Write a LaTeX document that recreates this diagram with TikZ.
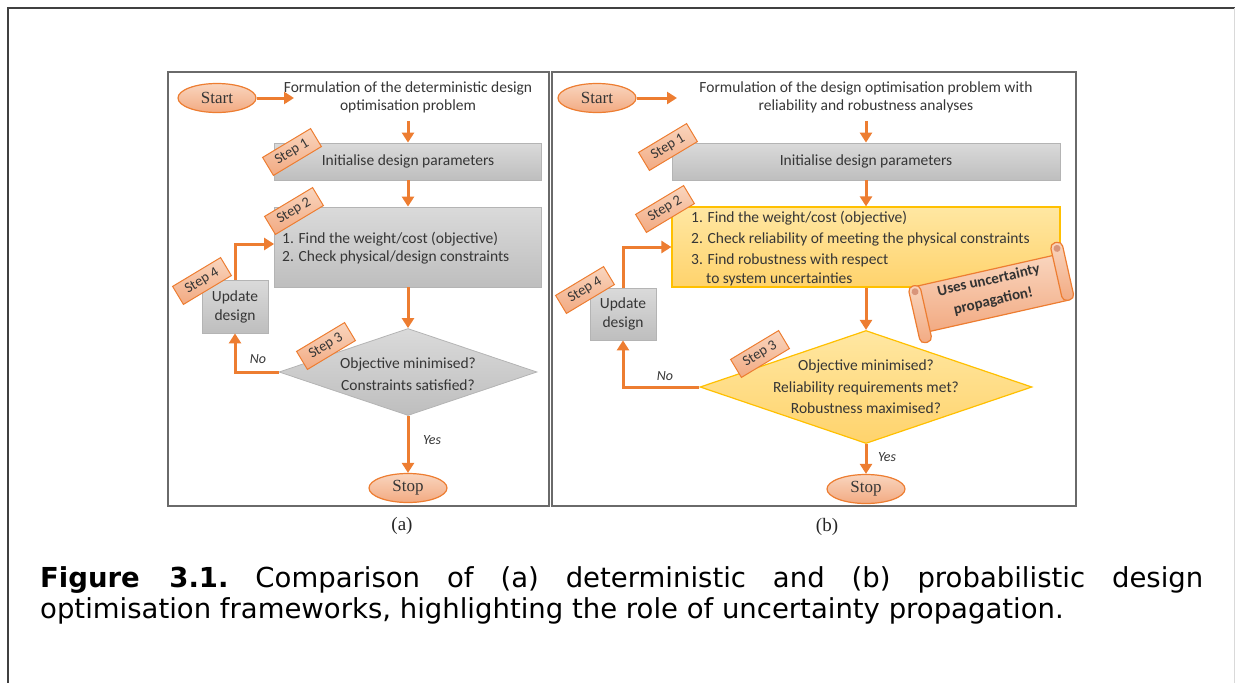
\documentclass[tikz,border=0pt]{standalone}
\usepackage{fontspec}
\setmainfont{Carlito}
\newfontfamily\serifface{Liberation Serif}
\newfontfamily\capface{DejaVu Sans}
\usetikzlibrary{arrows.meta,shapes.geometric,calc}

\definecolor{flow}{HTML}{ED7D31}
\definecolor{salmonA}{HTML}{F9D5BE}
\definecolor{salmonB}{HTML}{F2AA82}
\definecolor{greyA}{HTML}{DADADA}
\definecolor{greyB}{HTML}{BEBEBE}
\definecolor{greyEdge}{HTML}{B4B4B4}
\definecolor{yelA}{HTML}{FFE7A2}
\definecolor{yelB}{HTML}{FFD36C}
\definecolor{yelEdge}{HTML}{FFC000}
\definecolor{ink}{HTML}{363636}
\definecolor{panelEdge}{HTML}{6A6A6A}
\definecolor{curl}{HTML}{D9957A}

\newcommand\dfont{\fontsize{15.5}{18}\selectfont}

\tikzset{
  plain/.style={font=\dfont, text=ink, inner sep=2pt},
  lbl/.style={font=\fontsize{14}{16}\selectfont\itshape, text=ink, inner sep=1pt},
  terminal/.style={ellipse, draw=flow, line width=1.2pt, top color=salmonA, bottom color=salmonB,
    minimum width=78pt, minimum height=29pt, inner sep=0pt,
    font=\serifface\fontsize{17}{19}\selectfont, text=ink},
  tagbox/.style={rectangle, draw=flow, line width=1pt, top color=salmonA, bottom color=salmonB,
    minimum width=56pt, minimum height=21pt, inner sep=0pt, rotate=31,
    font=\fontsize{14.5}{16}\selectfont, text=ink},
  greybox/.style={rectangle, draw=greyEdge, line width=0.8pt, top color=greyA, bottom color=greyB,
    inner sep=0pt, font=\dfont, text=ink},
  yelbox/.style={rectangle, draw=yelEdge, line width=1.2pt, top color=yelA, bottom color=yelB,
    inner sep=0pt},
  greydec/.style={diamond, draw=greyEdge, line width=0.8pt, top color=greyA, bottom color=greyB,
    inner sep=0pt},
  yeldec/.style={diamond, draw=yelEdge, line width=1.2pt, top color=yelA, bottom color=yelB,
    inner sep=0pt},
  panel/.style={draw=panelEdge, line width=1.6pt},
  flowline/.style={draw=flow, line width=3pt},
  flowarrow/.style={flowline, -{Triangle[length=10pt,width=12pt]}},
  scrollpart/.style={draw=flow, line width=1.2pt, top color=salmonA, bottom color=salmonB},
}

\begin{document}
\begin{tikzpicture}[x=1pt,y=-1pt]
\useasboundingbox (0,0) rectangle (1235,683);

% page frame
\draw[black!75, line width=1.5pt] (8,683) -- (8,8) -- (1235,8);
\draw[black!15, line width=1pt] (1234,8) -- (1234,683);

% panel frames
\draw[panel] (168,72) rectangle (549,506);
\draw[panel] (552,72) rectangle (1076,506);

% ---------------- (a) deterministic ----------------
\node[terminal] (startA) at (217,98) {Start};
\coordinate (startAtip) at (294,98);
\node[plain, align=center] (formA) at (408,97)
  {Formulation of the deterministic design\\optimisation problem};
\node[greybox, minimum width=267pt, minimum height=37pt] (initA) at (408,161.5)
  {Initialise design parameters};
\node[greybox, minimum width=267pt, minimum height=80pt] (evalA) at (408,247) {};
\node[plain, anchor=west] (evalA1) at (280,239) {1. Find the weight/cost (objective)};
\node[plain, anchor=west] (evalA2) at (280,257) {2. Check physical/design constraints};
\node[greydec, minimum width=258pt, minimum height=87pt] (decA) at (408,372) {};
\node[plain, align=center, font=\fontsize{15.5}{22}\selectfont] (decAtxt) at (408,374)
  {Objective minimised?\\Constraints satisfied?};
\node[greybox, minimum width=66pt, minimum height=53pt, align=center,
  font=\fontsize{15.5}{19}\selectfont] (updA) at (235,306.5) {Update\\design};
\node[terminal] (stopA) at (408,488) {Stop};

\draw[flowarrow] (startA) -- (startAtip);
\draw[flowarrow, shorten <=6pt] (formA) -- (initA);
\draw[flowarrow] (initA) -- (evalA);
\draw[flowarrow] (evalA) -- (decA);
\draw[flowarrow] (decA) -- (stopA);
\draw[flowarrow] (decA.west) -| (updA.south);
\draw[flowarrow] (updA.north) |- ([yshift=3pt]evalA.west);
\node[lbl] (noA) at (258,359) {No};
\node[lbl] (yesA) at (432,440) {Yes};

\node[tagbox] (tagA1) at (292,152) {Step 1};
\node[tagbox] (tagA2) at (294,211) {Step 2};
\node[tagbox] (tagA3) at (326,346) {Step 3};
\node[tagbox] (tagA4) at (202,281) {Step 4};

\node[font=\serifface\fontsize{19}{22}\selectfont, text=black!85] (capA) at (402,526) {(a)};

% ---------------- (b) probabilistic ----------------
\node[terminal] (startB) at (597,98) {Start};
\coordinate (startBtip) at (677,98);
\node[plain, align=center] (formB) at (866,97)
  {Formulation of the design optimisation problem with\\reliability and robustness analyses};
\node[greybox, minimum width=388pt, minimum height=37pt] (initB) at (866,161.5)
  {Initialise design parameters};
\node[yelbox, minimum width=388pt, minimum height=80pt] (evalB) at (866,247) {};
\node[plain, anchor=west] (evalB1) at (689,218) {1. Find the weight/cost (objective)};
\node[plain, anchor=west] (evalB2) at (689,239) {2. Check reliability of meeting the physical constraints};
\node[plain, anchor=west] (evalB3) at (689,260) {3. Find robustness with respect};
\node[plain, anchor=west] (evalB4) at (704,279) {to system uncertainties};
\node[yeldec, minimum width=332pt, minimum height=113pt] (decB) at (866,387) {};
\node[plain, align=center, font=\fontsize{15.5}{21.5}\selectfont] (decBtxt) at (866,387)
  {Objective minimised?\\Reliability requirements met?\\Robustness maximised?};
\node[greybox, minimum width=66pt, minimum height=52pt, align=center,
  font=\fontsize{15.5}{19}\selectfont] (updB) at (623,314) {Update\\design};
\node[terminal] (stopB) at (866,489) {Stop};

\draw[flowarrow] (startB) -- (startBtip);
\draw[flowarrow, shorten <=6pt] (formB) -- (initB);
\draw[flowarrow] (initB) -- (evalB);
\draw[flowarrow] (evalB) -- (decB);
\draw[flowarrow] (decB) -- (stopB);
\draw[flowarrow] (decB.west) -| (updB.south);
\draw[flowarrow] (updB.north) |- (evalB.west);
\node[lbl] (noB) at (665,376) {No};
\node[lbl] (yesB) at (887,457) {Yes};

\node[tagbox] (tagB1) at (668,147) {Step 1};
\node[tagbox] (tagB2) at (665,209) {Step 2};
\node[tagbox] (tagB3) at (760,354) {Step 3};
\node[tagbox] (tagB4) at (585,290) {Step 4};

% scroll note
\begin{scope}[shift={(991,292)}, rotate=12.7]
  \path[scrollpart] (-72,-22) rectangle (72,25);
  \path[scrollpart, rounded corners=5pt] (-80,-23) rectangle (-68,35);
  \fill[curl] (-74,-17) circle (3.5);
  \path[scrollpart, rounded corners=5pt] (68,-34) rectangle (80,25);
  \fill[curl] (74,-28) circle (3.5);
\end{scope}
\node[align=center, rotate=12.7, font=\fontsize{15}{21}\selectfont\bfseries, text=black!80]
  (note) at (991,291) {Uses uncertainty\\propagation!};

\node[font=\serifface\fontsize{19}{22}\selectfont, text=black!85] (capB) at (827,527) {(b)};

% caption
\node[anchor=north west, inner sep=0pt, text width=1163pt, align=justify,
  font=\capface\fontsize{27.5}{31}\selectfont, text=black] (caption) at (40,566)
  {\frenchspacing\hyphenpenalty10000\exhyphenpenalty10000\tolerance9999\relax
   \textbf{Figure 3.1.} Comparison of (a) deterministic and (b) probabilistic design\linebreak
   optimisation frameworks, highlighting the role of uncertainty propagation.};
\end{tikzpicture}
\end{document}
